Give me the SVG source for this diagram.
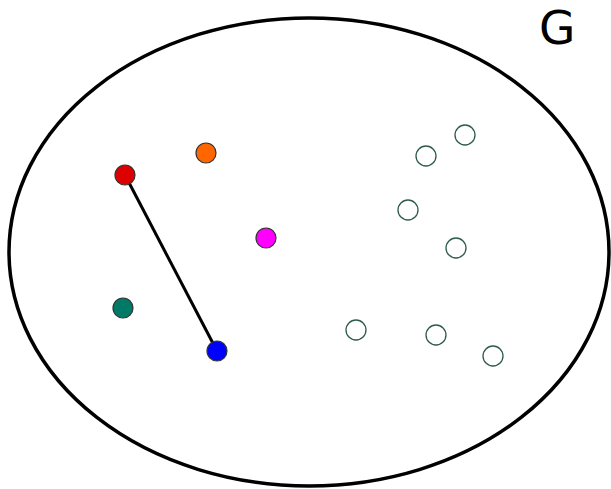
<svg xmlns="http://www.w3.org/2000/svg" width="611" height="489" viewBox="0 0 611 489">
<style>
.set{fill:#fff;stroke:#000;stroke-width:3.5}
.n{stroke:#333;stroke-width:1.2}
.h{fill:#fff;stroke:#2f5a4e;stroke-width:1.3}
.e{stroke:#000;stroke-width:3;fill:none}
.lbl{font-family:"DejaVu Sans",sans-serif;font-size:47px;fill:#000}
</style>
<rect width="611" height="489" fill="#fff"/>
<ellipse class="set" cx="309" cy="252" rx="300" ry="234"/>
<text class="lbl" x="539" y="44">G</text>
<g id="edges"><line class="e" x1="125" y1="175" x2="217" y2="351"/></g>
<g id="red"><circle class="n" cx="125" cy="175" r="10" fill="#dd0000"/></g>
<g id="orange"><circle class="n" cx="206" cy="153" r="10" fill="#ff6600"/></g>
<g id="magenta"><circle class="n" cx="266" cy="238" r="10" fill="#ff00ff"/></g>
<g id="teal"><circle class="n" cx="123" cy="308" r="10" fill="#007a66"/></g>
<g id="blue"><circle class="n" cx="217" cy="351" r="10" fill="#0000ff"/></g>
<g id="h1"><circle class="h" cx="465" cy="135" r="10"/></g>
<g id="h2"><circle class="h" cx="426" cy="156" r="10"/></g>
<g id="h3"><circle class="h" cx="408" cy="210" r="10"/></g>
<g id="h4"><circle class="h" cx="456" cy="248" r="10"/></g>
<g id="h5"><circle class="h" cx="356" cy="330" r="10"/></g>
<g id="h6"><circle class="h" cx="436" cy="335" r="10"/></g>
<g id="h7"><circle class="h" cx="493" cy="356" r="10"/></g>
</svg>
